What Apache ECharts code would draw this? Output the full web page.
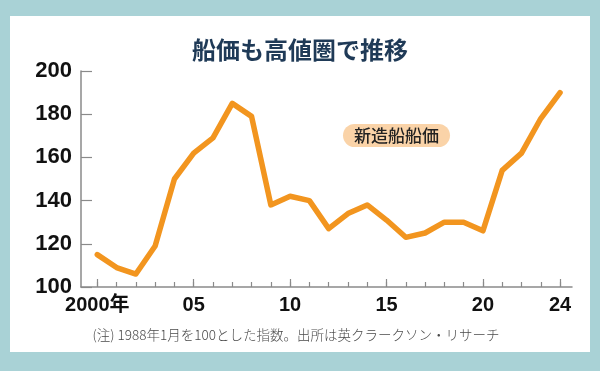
<!DOCTYPE html>
<html>
<head>
<meta charset="utf-8">
<script src="https://cdn.jsdelivr.net/npm/echarts@6/dist/echarts.min.js"></script>
<style>
html,body{margin:0;padding:0;background:#A9D2D6;}
#chart{width:600px;height:371px;}
</style>
</head>
<body>
<div id="chart"></div>
<script>
const years = [2000,2001,2002,2003,2004,2005,2006,2007,2008,2009,2010,2011,2012,2013,2014,2015,2016,2017,2018,2019,2020,2021,2022,2023,2024];
const shipPrice = [115,109,106,119,150,162,169,185,179,138,142,140,127,134,138,131,123,125,130,130,126,154,162,178,190];
const xLabelYears = [2000,2005,2010,2015,2020,2024];
const xLabelText = {2000:'2000年',2005:'05',2010:'10',2015:'15',2020:'20',2024:'24'};
const majorTickYears = [2000,2005,2010,2015,2020,2024];
const titleText = '船価も高値圏で推移';
const seriesName = '新造船船価';
const noteText = '(注) 1988年1月を100とした指数。出所は英クラークソン・リサーチ';

const chart = echarts.init(document.getElementById('chart'));
const axisColor = '#8a8a8a';
const numFont = "'Liberation Sans', Arial, 'Noto Sans CJK JP', sans-serif";
const jpFont = "'Noto Sans CJK JP', sans-serif";

chart.setOption({
  backgroundColor: '#A9D2D6',
  animation: false,
  graphic: [
    { type: 'rect', shape: { x: 10, y: 16, width: 580, height: 336 }, style: { fill: '#ffffff' }, z: -10 },
    { type: 'text', x: 296, y: 335, style: { text: noteText, fill: '#4a4a4a', font: "300 13.5px 'Noto Sans CJK JP', sans-serif", textAlign: 'center', textVerticalAlign: 'middle' } },
    { type: 'text', x: 396.5, y: 135.5, z: 10, style: { text: seriesName, fill: '#222', font: "500 17px 'Noto Sans CJK JP', sans-serif", textAlign: 'center', textVerticalAlign: 'middle', backgroundColor: '#FAD3A8', borderRadius: 13, padding: [3, 11, 3, 11] } }
  ],
  title: {
    text: titleText,
    left: 'center',
    top: 33,
    textStyle: { fontFamily: jpFont, fontSize: 24, fontWeight: 'bold', color: '#1F3A57' }
  },
  grid: { left: 81, right: 28, top: 71, bottom: 84 },
  xAxis: [
    {
      type: 'value', min: 1999.155, max: 2024.62,
      axisLine: { show: true, lineStyle: { color: axisColor, width: 1.5 } },
      axisTick: { show: true, inside: true, length: 8, customValues: majorTickYears, lineStyle: { color: axisColor, width: 1.2 } },
      axisLabel: { customValues: xLabelYears, formatter: v => xLabelText[v] || '', fontFamily: numFont, fontSize: 20, fontWeight: 'bold', color: '#111', margin: 8 },
      splitLine: { show: false }
    },
    {
      type: 'value', min: 1999.155, max: 2024.62, position: 'bottom',
      axisLine: { show: false },
      axisTick: { show: true, inside: true, length: 5, customValues: years, lineStyle: { color: axisColor, width: 1.2 } },
      axisLabel: { show: false },
      splitLine: { show: false }
    }
  ],
  yAxis: {
    type: 'value', min: 100, max: 200, interval: 20,
    axisLine: { show: true, lineStyle: { color: axisColor, width: 1.5 } },
    axisTick: { show: true, inside: true, length: 11, lineStyle: { color: axisColor, width: 1.2 } },
    axisLabel: { fontFamily: numFont, fontSize: 22, fontWeight: 'bold', color: '#111', margin: 9 },
    splitLine: { show: false }
  },
  series: [{
    name: seriesName,
    type: 'line',
    data: years.map((y, i) => [y, shipPrice[i]]),
    showSymbol: false,
    symbol: 'none',
    lineStyle: { color: '#F2951F', width: 5.5, cap: 'round', join: 'round' },
    z: 5
  }]
});
</script>
</body>
</html>
